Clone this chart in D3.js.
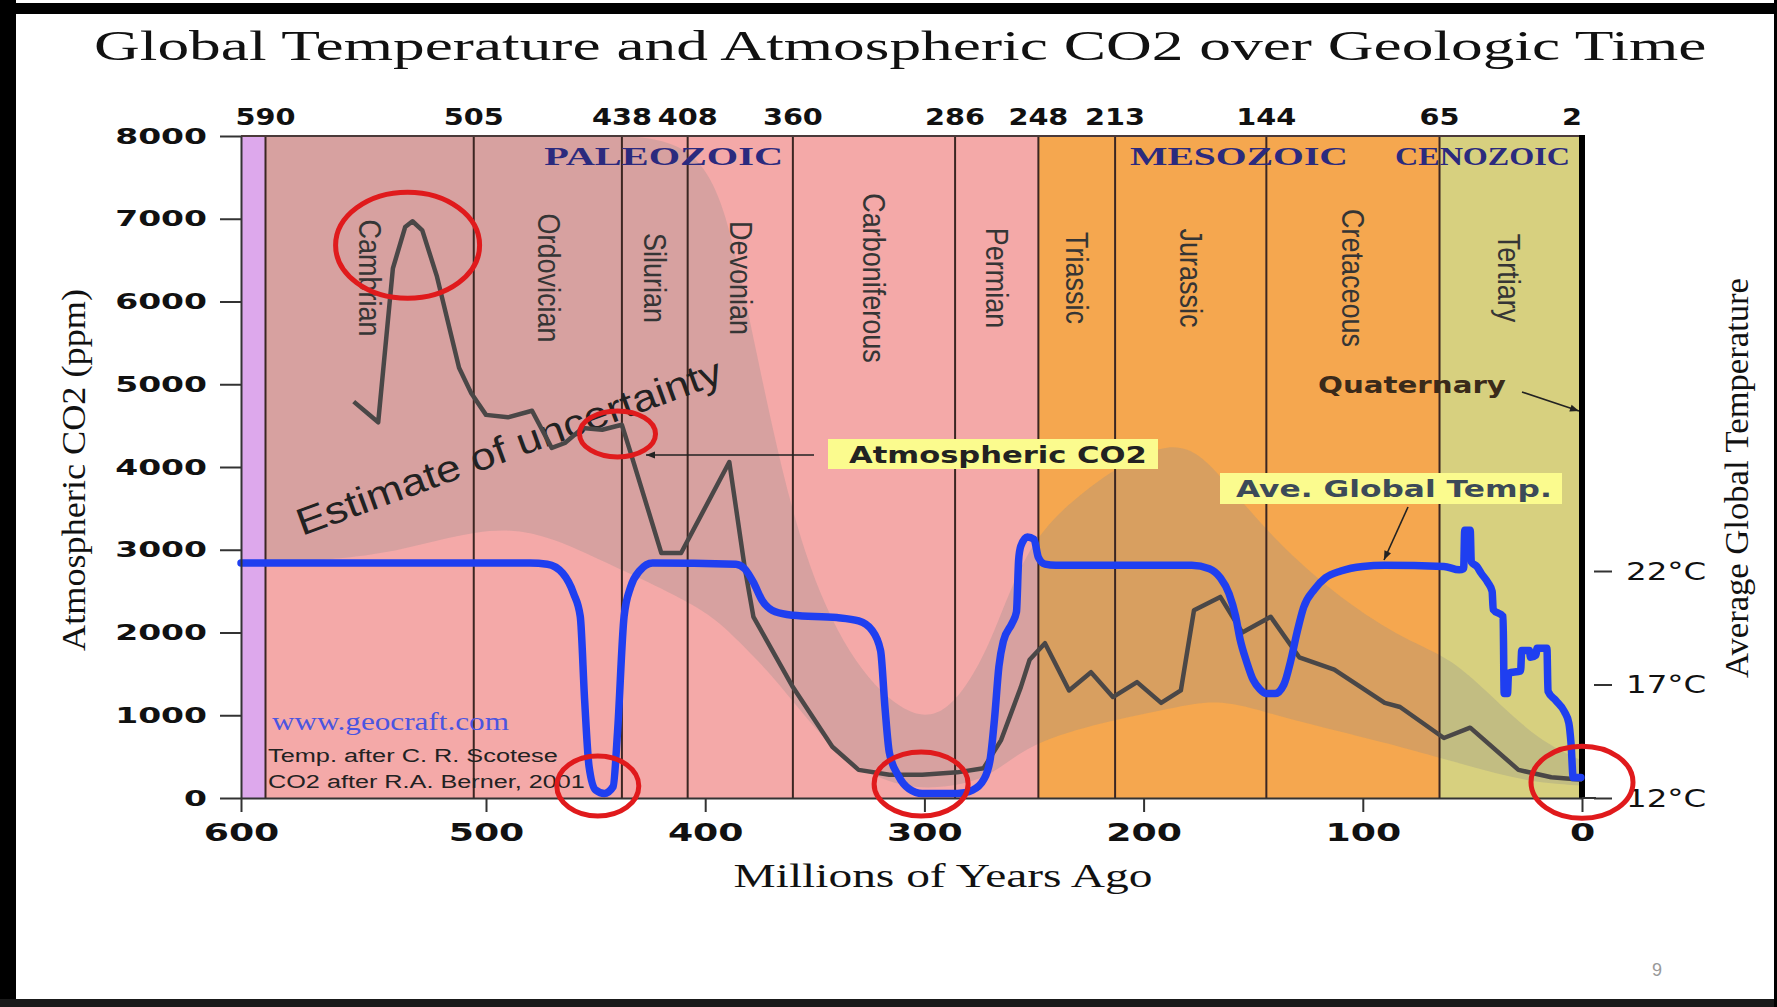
<!DOCTYPE html>
<html>
<head>
<meta charset="utf-8">
<script src="https://cdn.jsdelivr.net/npm/d3@7"></script>
<style>
body{margin:0;background:#fff;}
</style>
</head>
<body>
<div id="canvas"></div>
<script>
// data (ages in millions of years ago)
var xTicks = [600, 500, 400, 300, 200, 100, 0];
var yTicks = [0, 1000, 2000, 3000, 4000, 5000, 6000, 7000, 8000];
var tempTicks = [12, 17, 22];
var boundaries = [590, 505, 438, 408, 360, 286, 248, 213, 144, 65, 2];

var eras = [
    ['Precambrian', 600, 590],
    ['PALEOZOIC', 590, 248],
    ['MESOZOIC', 248, 65],
    ['CENOZOIC', 65, 0]
];

var periods = [
    ['Cambrian', 590, 505], ['Ordovician', 505, 438], ['Silurian', 438, 408],
    ['Devonian', 408, 360], ['Carboniferous', 360, 286], ['Permian', 286, 248],
    ['Triassic', 248, 213], ['Jurassic', 213, 144], ['Cretaceous', 144, 65],
    ['Tertiary', 65, 2]
];

// [age, ppm]
var co2 = [
    [554,4790],[544,4540],[538,6400],[533,6900],[530,6970],[526,6860],[520,6300],
    [511,5200],[506,4890],[500,4630],[490,4600],[479,4680],[470,4230],[464,4290],
    [456,4470],[447,4450],[438,4510],[434,4170],[420,2960],[411,2960],[389,4060],
    [382,2790],[378,2190],[360,1340],[342,620],[330,340],[316,280],[301,280],
    [285,310],[273,360],[265,700],[256,1340],[252,1670],[245,1870],[234,1300],
    [224,1520],[214,1220],[203,1400],[192,1150],[183,1300],[177,2270],[165,2430],
    [155,2000],[142,2190],[129,1700],[113,1550],[90,1150],[83,1100],[63,725],
    [51,850],[29,340],[14,250],[0,220]
];

// [age, degrees C]
var temp = [
    [600,22.35],[480,22.35],[472,22.3],[465,21.9],[460,21.0],[457,20.0],[455,16.3],
    [453,13.4],[450,12.35],[446,12.2],[442,12.5],[440,14.9],[437,20],[434,21.3],
    [430,22.0],[424,22.35],[386,22.3],[382,22.1],[378,21.5],[374,20.7],[368,20.2],
    [360,20.05],[340,19.95],[330,19.8],[324,19.4],[320,18.5],[318,16],[316,14],
    [312,13],[307,12.4],[301,12.2],[285,12.2],[278,12.35],[273,12.8],[270,13.7],
    [268,15.5],[266,17.8],[264,18.9],[260,19.7],[258,20.2],[257,22.5],[256,23.1],
    [253,23.5],[250,23.4],[248,22.6],[245,22.3],[240,22.25],[178,22.25],[170,22.1],
    [165,21.7],[161,21],[158,20],[156,19],[153,18],[150,17.2],[147,16.8],[144,16.6],
    [140,16.6],[136,17],[133,18],[130,19.3],[127,20.4],[122,21.2],[117,21.7],
    [110,22],[100,22.2],[90,22.25],[63,22.2],[56,22.05],[54,22.1],[53.5,23.8],
    [51,23.8],[50.5,22.4],[48,22.2],[46,21.9],[43,21.5],[41,21.1],[40.5,20.3],
    [36,20.0],[35.5,16.6],[34,16.6],[33.5,17.5],[28,17.6],[27.5,18.5],[24,18.5],
    [23.5,18.2],[21,18.3],[20.5,18.6],[16,18.6],[15.5,16.7],[12,16.3],[8,15.8],
    [6,15.3],[5,14.4],[4,12.9],[0.5,12.9]
];

// [age, low ppm, high ppm]
var uncertainty = [
    [590,2850,8000],[540,2900,8000],[490,3400,8000],[450,2900,8000],[400,2300,8000],
    [385,1900,6500],[370,1500,4500],[355,1000,2900],[335,400,1700],[310,120,1000],
    [290,120,950],[270,250,1800],[255,600,3000],[230,850,3700],[185,1100,4450],
    [165,1200,3900],[140,1000,3100],[110,800,2400],[80,600,1900],[60,450,1700],
    [40,300,1200],[20,180,700],[0,150,450]
];

// points ringed in red [age, ppm]
var circled = [[532,6680],[440,4400],[449,145],[301.5,170],[0,190]];

var SANS = "'DejaVu Sans', Verdana, sans-serif";
var ARIAL = "'Liberation Sans', Arial, sans-serif";
var SERIF = "'Liberation Serif', 'Times New Roman', serif";

var W = 1777, H = 1007;
var svg = d3.select('#canvas').append('svg')
    .attr('width', W)
    .attr('height', H);

svg.append('rect').attr('width', W).attr('height', H).attr('fill', '#fff');

// slide frame
svg.append('rect').attr('x', 0).attr('y', 0).attr('width', 16).attr('height', H).attr('fill', '#000');
svg.append('rect').attr('x', 0).attr('y', 3).attr('width', W).attr('height', 11).attr('fill', '#000');
svg.append('rect').attr('x', 0).attr('y', 999).attr('width', W).attr('height', 8).attr('fill', '#1a1a1a');
svg.append('rect').attr('x', W - 3).attr('y', 0).attr('width', 3).attr('height', H).attr('fill', '#000');

// the scan is stretched sideways a bit, 500-600 wider than the rest
var x = d3.scaleLinear().domain([600, 500, 0]).range([241, 486, 1582]);
var y = d3.scaleLinear().domain([0, 8000]).range([798, 136]);
var t = d3.scaleLinear().domain([12, 22]).range([798, 571]);

var plotTop = y(8000), plotBottom = y(0);

// helper for stretched text
function txt(parent, s, o){
    var el = parent.append('text').text(s)
        .attr('font-family', o.family || SANS)
        .attr('font-size', o.size)
        .attr('font-weight', o.weight || 'normal')
        .attr('fill', o.fill || '#111')
        .attr('text-anchor', o.anchor || 'start');
    if (o.spacing) el.attr('letter-spacing', o.spacing);
    if (o.baseline) el.attr('dominant-baseline', o.baseline);
    var sx = o.sx || 1, sy = o.sy || 1;
    var len = el.node().getComputedTextLength();
    if (o.width) sx = o.width / len;
    if (o.length) sy = o.length / len;
    el.attr('transform', 'translate(' + o.x + ',' + o.y + ') scale(' + sx + ',' + sy + ')' +
        (o.rotate ? ' rotate(' + o.rotate + ')' : ''));
    return el;
}

var eraColor = {Precambrian:'#dda8ec', PALEOZOIC:'#f4a9a8', MESOZOIC:'#f5a74f', CENOZOIC:'#d7d07f'};

var plot = svg.append('g');

plot.selectAll('rect.era')
    .data(eras)
    .enter().append('rect')
    .attr('class', 'era')
    .attr('x', function(d){ return x(d[1]); })
    .attr('width', function(d){ return x(d[2]) - x(d[1]); })
    .attr('y', plotTop)
    .attr('height', plotBottom - plotTop)
    .attr('fill', function(d){ return eraColor[d[0]]; });

// estimate of uncertainty band
var band = d3.area()
    .x(function(d){ return x(d[0]); })
    .y0(function(d){ return y(d[1]); })
    .y1(function(d){ return y(d[2]); })
    .curve(d3.curveBasis);

plot.append('path')
    .datum(uncertainty)
    .attr('d', band)
    .attr('fill', 'rgb(140,140,140)')
    .attr('fill-opacity', 0.28);

// period boundaries
plot.selectAll('line.bound')
    .data(boundaries.slice(0, -1))
    .enter().append('line')
    .attr('class', 'bound')
    .attr('x1', function(d){ return x(d); })
    .attr('x2', function(d){ return x(d); })
    .attr('y1', plotTop)
    .attr('y2', plotBottom)
    .attr('stroke', '#3b2622')
    .attr('stroke-width', 2);

plot.append('line')
    .attr('x1', x(600)).attr('x2', x(0))
    .attr('y1', plotTop).attr('y2', plotTop)
    .attr('stroke', '#4a3a3a').attr('stroke-width', 2);

plot.append('line')
    .attr('x1', x(0)).attr('x2', x(0))
    .attr('y1', plotTop - 1).attr('y2', plotBottom)
    .attr('stroke', '#000').attr('stroke-width', 6);

// period names, vertical
periods.forEach(function(p){
    txt(plot, p[0], {x: x((p[1] + p[2]) / 2), y: 278, size: 27, family: ARIAL,
        fill: '#353535', anchor: 'middle', baseline: 'central', rotate: 90, sx: 1.15});
});

// era names
var eraLabelWidth = {PALEOZOIC: 239, MESOZOIC: 218, CENOZOIC: 175};
eras.slice(1).forEach(function(e){
    var w = eraLabelWidth[e[0]];
    var cx = Math.min(x((e[1] + e[2]) / 2), x(0) - w / 2 - 12);
    txt(plot, e[0], {x: cx, y: 165, size: 26, family: SERIF, weight: 'bold',
        fill: '#2b2a7e', anchor: 'middle', width: w});
});

// boundary ages along the top
boundaries.forEach(function(b, i){
    var last = i === boundaries.length - 1;
    txt(svg, b, {x: last ? x(0) : x(b), y: 125, size: 23, weight: 'bold',
        anchor: last ? 'end' : 'middle', sx: 1.25});
});

// credits
txt(plot, 'www.geocraft.com', {x: 272, y: 730, size: 25, family: SERIF, fill: '#4b55e0', width: 237});
txt(plot, 'Temp. after C. R. Scotese', {x: 268, y: 762, size: 19, family: ARIAL, fill: '#222', width: 290});
txt(plot, 'CO2 after R.A. Berner, 2001', {x: 268, y: 788, size: 19, family: ARIAL, fill: '#222', width: 317});

// estimate of uncertainty
plot.append('text')
    .text('Estimate of uncertainty')
    .attr('font-family', ARIAL)
    .attr('font-size', 38)
    .attr('fill', '#222')
    .attr('textLength', 450)
    .attr('lengthAdjust', 'spacingAndGlyphs')
    .attr('transform', 'translate(302,536) rotate(-20)');

// CO2 line
var co2Line = d3.line()
    .x(function(d){ return x(d[0]); })
    .y(function(d){ return y(d[1]); });

plot.append('path')
    .datum(co2)
    .attr('d', co2Line)
    .attr('fill', 'none')
    .attr('stroke', '#4a4747')
    .attr('stroke-width', 4.5)
    .attr('stroke-linejoin', 'round');

// temperature line
var tempLine = d3.line()
    .x(function(d){ return x(d[0]); })
    .y(function(d){ return t(d[1]); })
    .curve(d3.curveMonotoneX);

plot.append('path')
    .datum(temp)
    .attr('d', tempLine)
    .attr('fill', 'none')
    .attr('stroke', '#1f3ff0')
    .attr('stroke-width', 7.5)
    .attr('stroke-linejoin', 'round')
    .attr('stroke-linecap', 'round');

// arrows
var defs = svg.append('defs');
defs.append('marker')
    .attr('id', 'arr')
    .attr('viewBox', '0 -5 10 10')
    .attr('refX', 10).attr('refY', 0)
    .attr('markerUnits', 'userSpaceOnUse')
    .attr('markerWidth', 14).attr('markerHeight', 9)
    .attr('orient', 'auto')
    .append('path').attr('d', 'M0,-4L10,0L0,4Z').attr('fill', '#222');

function arrow(x1, y1, x2, y2){
    svg.append('line')
        .attr('x1', x1).attr('y1', y1).attr('x2', x2).attr('y2', y2)
        .attr('stroke', '#222').attr('stroke-width', 1.6)
        .attr('marker-end', 'url(#arr)');
}

arrow(814, 455, 646, 455);
svg.append('rect').attr('x', 828).attr('y', 439).attr('width', 330).attr('height', 30).attr('fill', '#fbfb8e');
txt(svg, 'Atmospheric CO2', {x: 849, y: 463, size: 23, weight: 'bold', fill: '#222', width: 298});

svg.append('rect').attr('x', 1220).attr('y', 473).attr('width', 342).attr('height', 31).attr('fill', '#fbfb8e');
txt(svg, 'Ave. Global Temp.', {x: 1236, y: 497, size: 23, weight: 'bold', fill: '#3c4a58', width: 316});
arrow(1408, 507, 1384, 560);

txt(svg, 'Quaternary', {x: 1318, y: 393, size: 23, weight: 'bold', fill: '#3a2a1a', width: 188});
arrow(1522, 392, 1579, 411);

// axes
var gy = svg.append('g')
    .attr('transform', 'translate(' + x(600) + ',0)')
    .call(d3.axisLeft(y).tickValues(yTicks).tickSize(21).tickSizeOuter(0).tickPadding(0)
        .tickFormat(d3.format('d')));
gy.select('.domain').attr('stroke', '#333').attr('stroke-width', 2);
gy.selectAll('.tick line').attr('stroke', '#333').attr('stroke-width', 2);
gy.selectAll('.tick text')
    .attr('x', -34 / 1.5)
    .attr('transform', 'scale(1.5,1)')
    .attr('font-family', SANS).attr('font-weight', 'bold').attr('font-size', 22).attr('fill', '#111');

var gx = svg.append('g')
    .attr('transform', 'translate(0,' + plotBottom + ')')
    .call(d3.axisBottom(x).tickValues(xTicks).tickSize(14).tickSizeOuter(0).tickPadding(11));
gx.select('.domain').attr('stroke', '#333').attr('stroke-width', 2);
gx.selectAll('.tick line').attr('stroke', '#333').attr('stroke-width', 2);
gx.selectAll('.tick text')
    .attr('transform', 'scale(1.45,1)')
    .attr('font-family', SANS).attr('font-weight', 'bold').attr('font-size', 25).attr('fill', '#111');

svg.append('line')
    .attr('x1', x(0)).attr('x2', x(0) + 14)
    .attr('y1', plotBottom).attr('y2', plotBottom)
    .attr('stroke', '#333').attr('stroke-width', 2);

var gt = svg.append('g')
    .attr('transform', 'translate(' + (x(0) + 12) + ',0)')
    .call(d3.axisRight(t).tickValues(tempTicks).tickSize(18).tickSizeOuter(0).tickPadding(14)
        .tickFormat(function(d){ return d + '°C'; }));
gt.select('.domain').remove();
gt.selectAll('.tick line').attr('stroke', '#333').attr('stroke-width', 2);
gt.selectAll('.tick text')
    .attr('x', 32 / 1.3)
    .attr('transform', 'scale(1.3,1)')
    .attr('font-family', SANS).attr('font-size', 25).attr('fill', '#111');

// red rings
var ringSize = [[72,53],[38,23],[41,30],[47,32],[51,36]];
svg.selectAll('ellipse.ring')
    .data(circled)
    .enter().append('ellipse')
    .attr('class', 'ring')
    .attr('cx', function(d){ return x(d[0]); })
    .attr('cy', function(d){ return y(d[1]); })
    .attr('rx', function(d, i){ return ringSize[i][0]; })
    .attr('ry', function(d, i){ return ringSize[i][1]; })
    .attr('fill', 'none')
    .attr('stroke', '#e01a1c')
    .attr('stroke-width', 5);

// titles
txt(svg, 'Global Temperature and Atmospheric CO2 over Geologic Time',
    {x: 94, y: 60, size: 42, family: SERIF, fill: '#111', width: 1613});
txt(svg, 'Millions of Years Ago', {x: 943, y: 887, size: 34, family: SERIF, fill: '#111', anchor: 'middle', width: 419});
txt(svg, 'Atmospheric CO2 (ppm)', {x: 74, y: 470, size: 34, family: SERIF, fill: '#111', anchor: 'middle',
    baseline: 'central', rotate: -90, length: 362});
txt(svg, 'Average Global Temperature', {x: 1736, y: 478, size: 34, family: SERIF, fill: '#111', anchor: 'middle',
    baseline: 'central', rotate: -90, length: 400});

// slide number
txt(svg, '9', {x: 1657, y: 976, size: 18, family: ARIAL, fill: '#999', anchor: 'middle'});
</script>
</body>
</html>
